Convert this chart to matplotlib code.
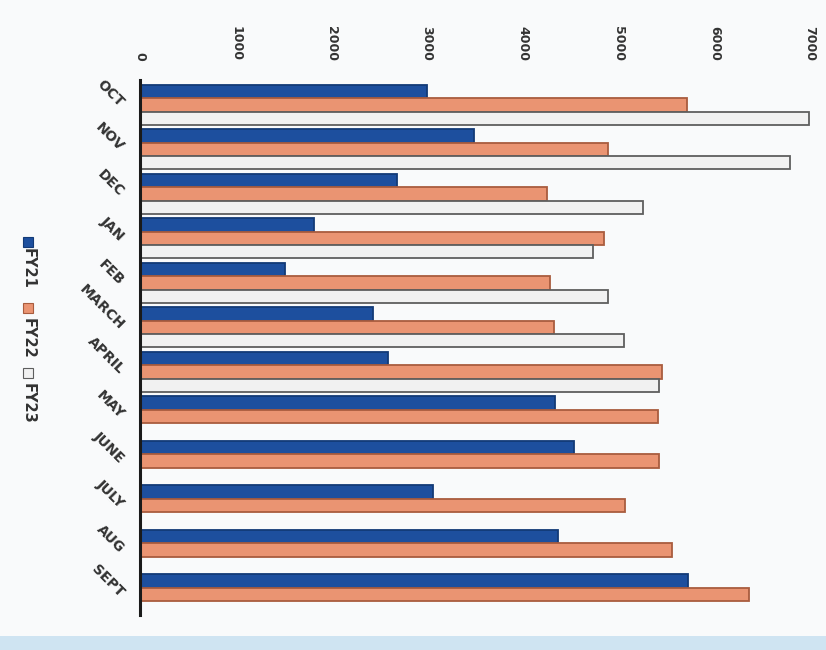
import numpy as np
import matplotlib
matplotlib.use('agg')
import matplotlib.pyplot as plt
from matplotlib.patches import Rectangle


MONTHS = ['OCT', 'NOV', 'DEC', 'JAN', 'FEB', 'MARCH', 'APRIL',
          'MAY', 'JUNE', 'JULY', 'AUG', 'SEPT']
FY21 = [3000, 3490, 2690, 1820, 1520, 2430, 2590, 4340, 4530, 3060, 4370, 5730]
FY22 = [5720, 4890, 4250, 4850, 4280, 4330, 5450, 5410, 5420, 5070, 5560, 6360]
# FY23 only runs through April
FY23 = [6990, 6790, 5250, 4730, 4890, 5060, 5420]
SERIES = ['FY21', 'FY22', 'FY23']
X_TICKS = [0, 1000, 2000, 3000, 4000, 5000, 6000, 7000]

COLORS = ['#1d4f9e', '#ea9472', '#f1f1f1']
EDGES = ['#123a77', '#a95c3e', '#5e5e5e']


fig = plt.figure(figsize=(8.26, 6.5), dpi=100, facecolor='#f9fafb')
ax = fig.add_axes([140 / 826, 1 - 615 / 650, 670 / 826, 535 / 650])
ax.set_facecolor('none')

y = np.arange(len(MONTHS))
h = 0.3
for i, vals in enumerate([FY21, FY22, FY23]):
    pos = y[:len(vals)] + (i - 1) * h
    ax.barh(pos, vals, height=h, color=COLORS[i], edgecolor=EDGES[i],
            linewidth=1.3, label=SERIES[i])

ax.set_xlim(0, 7000)
ax.set_ylim(11.46, -0.56)

ax.xaxis.tick_top()
ax.set_xticks(X_TICKS)
ax.set_xticklabels([str(t) for t in X_TICKS], rotation=-90, va='bottom',
                   ha='center', fontsize=9, fontweight='bold', color='#333333')
ax.tick_params(axis='x', length=0, pad=14)

ax.set_yticks(y)
ax.set_yticklabels(MONTHS, rotation=-45, ha='right', va='center',
                   rotation_mode='anchor', fontsize=10, fontweight='bold',
                   color='#333333')
ax.tick_params(axis='y', length=0, pad=13)

for side in ['top', 'right', 'bottom']:
    ax.spines[side].set_visible(False)
ax.spines['left'].set_color('#1a1a1a')
ax.spines['left'].set_linewidth(2.2)

# vertical legend down the left side
legend_y = [(242, 268), (308, 338), (373, 403)]
for i, (sq, txt) in enumerate(legend_y):
    fig.patches.append(Rectangle((23 / 826, 1 - (sq + 5) / 650), 10 / 826, 10 / 650,
                                 transform=fig.transFigure, facecolor=COLORS[i],
                                 edgecolor=EDGES[i], linewidth=0.8))
    fig.text(28 / 826, 1 - txt / 650, SERIES[i], rotation=-90, ha='center',
             va='center', fontsize=10.5, fontweight='bold', color='#333333')

# light blue strip along the bottom edge
fig.patches.append(Rectangle((0, 0), 1, 14 / 650, transform=fig.transFigure,
                             facecolor='#cfe4f2', edgecolor='none'))

fig.savefig('out.png', dpi=100, facecolor=fig.get_facecolor())
